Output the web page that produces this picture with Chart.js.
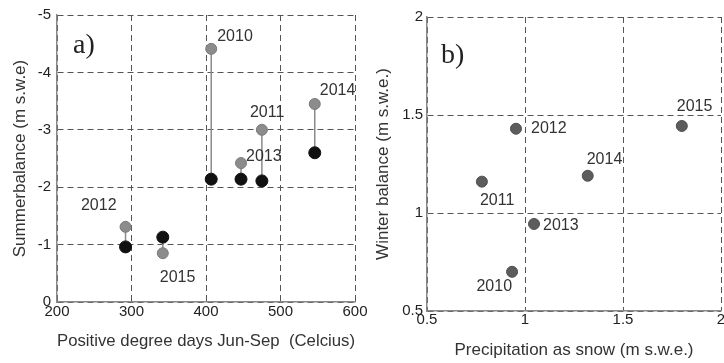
<!DOCTYPE html>
<html>
<head>
<meta charset="utf-8">
<script src="https://cdn.jsdelivr.net/npm/chart.js@4"></script>
<style>
  html, body { margin: 0; padding: 0; background: #fff; overflow: hidden; }
  body { width: 724px; height: 363px; position: relative; }
  canvas { position: absolute; top: 0; }
  #chartA { left: 0; }
  #chartB { left: 362px; }
</style>
</head>
<body>
<canvas id="chartA" width="380" height="363"></canvas>
<canvas id="chartB" width="380" height="363"></canvas>
<script>
// data
const years = ['2010', '2011', '2012', '2013', '2014', '2015'];
const degreeDays = [407, 475, 292, 447, 546, 342];
const summerGray = [-4.41, -3.0, -1.31, -2.42, -3.45, -0.85];
const summerBlack = [-2.14, -2.11, -0.96, -2.14, -2.60, -1.13];
const snowPrecip = [0.934, 0.78, 0.954, 1.046, 1.32, 1.80];
const winterBalance = [0.70, 1.16, 1.43, 0.944, 1.19, 1.444];

const ticksAX = [200, 300, 400, 500, 600];
const ticksAY = [-5, -4, -3, -2, -1, 0];
const ticksB = [0.5, 1, 1.5, 2];

// where each year label sits relative to its point: [dx, dy, align]
const labelPosA = {
  '2010': [6, -12, 'left'], '2011': [-12, -17, 'left'], '2012': [-9, -21, 'right'],
  '2013': [5, -6, 'left'], '2014': [5, -13, 'left'], '2015': [-3, 24, 'left']
};
const labelPosB = {
  '2010': [0, 15, 'right'], '2011': [-2, 19, 'left'], '2012': [15, 0, 'left'],
  '2013': [9, 2, 'left'], '2014': [-1, -16, 'left'], '2015': [-5, -19, 'left']
};

const FONT = 'Arial, "Liberation Sans", sans-serif';

const yearLabels = {
  id: 'yearLabels',
  afterDatasetsDraw(chart, args, opts) {
    const ctx = chart.ctx;
    const meta = chart.getDatasetMeta(opts.datasetIndex);
    ctx.save();
    ctx.font = '16px ' + FONT;
    ctx.fillStyle = '#333';
    ctx.textBaseline = 'middle';
    years.forEach((yr, i) => {
      const pt = meta.data[i];
      const p = opts.pos[yr];
      ctx.textAlign = p[2];
      ctx.fillText(yr, pt.x + p[0], pt.y + p[1]);
    });
    // panel letter
    ctx.font = '28px "Liberation Serif", "Times New Roman", serif';
    ctx.fillStyle = '#222';
    ctx.textAlign = 'left';
    ctx.textBaseline = 'alphabetic';
    ctx.fillText(opts.panel, chart.chartArea.left + opts.panelDx, chart.chartArea.top + opts.panelDy);
    ctx.restore();
  }
};

function axis(ticks, extra) {
  return Object.assign({
    type: 'linear',
    min: ticks[0],
    max: ticks[ticks.length - 1],
    afterBuildTicks: s => { s.ticks = ticks.map(v => ({ value: v })); },
    grid: { color: '#555', lineWidth: 1, drawTicks: false },
    border: { display: true, color: '#888', width: 1.5, dash: [6, 4] }
  }, extra);
}

function tickOpt(pad) {
  return { color: '#222', font: { family: FONT, size: 15 }, padding: pad, maxRotation: 0, callback: v => String(v) };
}

function titleOpt(text, pad) {
  return { display: true, text: text, color: '#333', font: { family: FONT, size: 17 }, padding: pad };
}

// Panel a
const stems = years.map((yr, i) => ({
  data: [{ x: degreeDays[i], y: summerGray[i] }, { x: degreeDays[i], y: summerBlack[i] }],
  showLine: true,
  borderColor: '#8a8a8a',
  borderWidth: 1.5,
  pointRadius: 0,
  order: 3
}));

new Chart(document.getElementById('chartA'), {
  type: 'scatter',
  data: {
    datasets: [
      {
        label: 'gray',
        data: years.map((yr, i) => ({ x: degreeDays[i], y: summerGray[i] })),
        backgroundColor: '#8c8c8c',
        borderColor: '#7a7a7a',
        pointRadius: 5.5,
        order: 2
      },
      {
        label: 'black',
        data: years.map((yr, i) => ({ x: degreeDays[i], y: summerBlack[i] })),
        backgroundColor: '#111',
        borderColor: '#111',
        pointRadius: 6,
        order: 1
      }
    ].concat(stems)
  },
  options: {
    responsive: false,
    animation: false,
    layout: { padding: { left: 0, top: 15, right: 25, bottom: 4 } },
    plugins: {
      legend: { display: false },
      tooltip: { enabled: false },
      yearLabels: { datasetIndex: 0, pos: labelPosA, panel: 'a)', panelDx: 16, panelDy: 38 }
    },
    scales: {
      x: axis(ticksAX, {
        afterFit: s => { s.height = 57; },
        ticks: tickOpt(1),
        title: titleOpt('Positive degree days Jun-Sep  (Celcius)', { top: 0, bottom: 7 })
      }),
      y: axis(ticksAY, {
        reverse: true,
        afterFit: s => { s.width = 57; },
        ticks: tickOpt(6),
        title: titleOpt('Summerbalance (m s.w.e)', { top: 10, bottom: 0 })
      })
    }
  },
  plugins: [yearLabels]
});

// Panel b
new Chart(document.getElementById('chartB'), {
  type: 'scatter',
  data: {
    datasets: [{
      label: 'winter',
      data: years.map((yr, i) => ({ x: snowPrecip[i], y: winterBalance[i] })),
      backgroundColor: '#5c5c5c',
      borderColor: '#4e4e4e',
      pointRadius: 5.5
    }]
  },
  options: {
    responsive: false,
    animation: false,
    layout: { padding: { left: 0, top: 17, right: 21, bottom: 2 } },
    plugins: {
      legend: { display: false },
      tooltip: { enabled: false },
      yearLabels: { datasetIndex: 0, pos: labelPosB, panel: 'b)', panelDx: 14, panelDy: 46 }
    },
    scales: {
      x: axis(ticksB, {
        afterFit: s => { s.height = 50; },
        ticks: tickOpt(0),
        title: titleOpt('Precipitation as snow (m s.w.e.)', { top: 0, bottom: 0 })
      }),
      y: axis(ticksB, {
        afterFit: s => { s.width = 65; },
        ticks: tickOpt(4),
        title: titleOpt('Winter balance (m s.w.e.)', { top: 11, bottom: 0 })
      })
    }
  },
  plugins: [yearLabels]
});
</script>
</body>
</html>
